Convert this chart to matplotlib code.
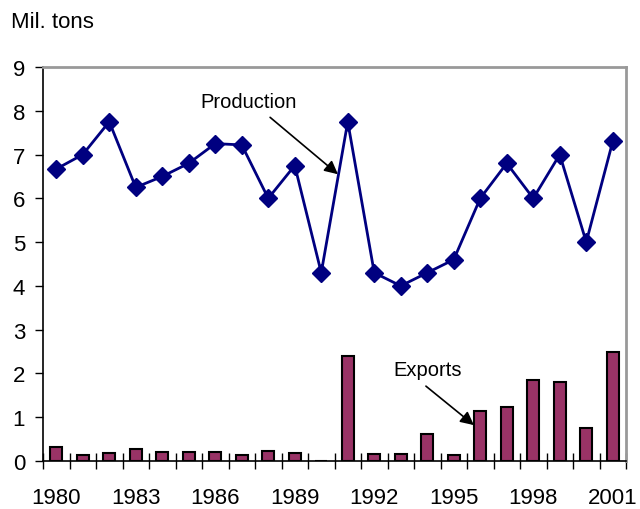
import numpy as np
import matplotlib.pyplot as plt

plt.rcParams['font.family'] = ['Liberation Sans', 'DejaVu Sans']

years = list(range(1980, 2002))
production = [6.67, 7.0, 7.75, 6.25, 6.5, 6.8, 7.25, 7.22, 6.0, 6.75, 4.3,
              7.75, 4.3, 4.0, 4.3, 4.6, 6.0, 6.8, 6.0, 7.0, 5.0, 7.3]
exports = [0.32, 0.14, 0.18, 0.28, 0.21, 0.21, 0.2, 0.14, 0.23, 0.18, 0.0,
           2.4, 0.17, 0.17, 0.62, 0.14, 1.14, 1.24, 1.85, 1.8, 0.75, 2.5]
tick_years = [1980, 1983, 1986, 1989, 1992, 1995, 1998, 2001]

x = np.arange(len(years))

fig = plt.figure(figsize=(6.4, 5.1), dpi=100)
ax = fig.add_axes([43/640, 48/510, 583/640, 394/510])

# exportaciones como barras, producción como línea con rombos
ax.bar(x, exports, width=0.45, color='#993366', edgecolor='black', linewidth=1.5, zorder=2)
ax.plot(x, production, color='#000080', linewidth=2, marker='D', markersize=9.5, zorder=3)

ax.set_xlim(-0.5, len(years) - 0.5)
ax.set_ylim(0, 9)
ax.set_yticks(range(0, 10))
ax.tick_params(axis='y', direction='out', length=5.8, width=1, labelsize=16, pad=7)

# marcas de categoría entre años, etiquetas cada tres años
ax.set_xticks(np.arange(-0.5, len(years)), minor=True)
ax.set_xticks([years.index(y) for y in tick_years])
ax.set_xticklabels([str(y) for y in tick_years])
ax.tick_params(axis='x', which='major', length=0, labelsize=16, pad=19)
ax.tick_params(axis='x', which='minor', direction='inout', length=11.5, width=1)

for side in ['left', 'bottom']:
    ax.spines[side].set_color('black')
    ax.spines[side].set_linewidth(1.2)
for side in ['top', 'right']:
    ax.spines[side].set_color('#999999')
    ax.spines[side].set_linewidth(2)

# etiquetas de series con flechas
flecha = dict(arrowstyle='-|>', color='black', lw=1.2, mutation_scale=20,
              shrinkA=0, shrinkB=0)
ax.text(7.27, 8.22, 'Production', fontsize=14.5, ha='center', va='center')
ax.annotate('', xy=(10.63, 6.55), xytext=(8.07, 7.85), arrowprops=flecha)
ax.text(14.03, 2.1, 'Exports', fontsize=14.5, ha='center', va='center')
ax.annotate('', xy=(15.76, 0.82), xytext=(13.95, 1.71), arrowprops=flecha)

fig.text(11/640, 1 - 22/510, 'Mil. tons', fontsize=16, va='center', ha='left')

fig.savefig('out.png', dpi=100)
